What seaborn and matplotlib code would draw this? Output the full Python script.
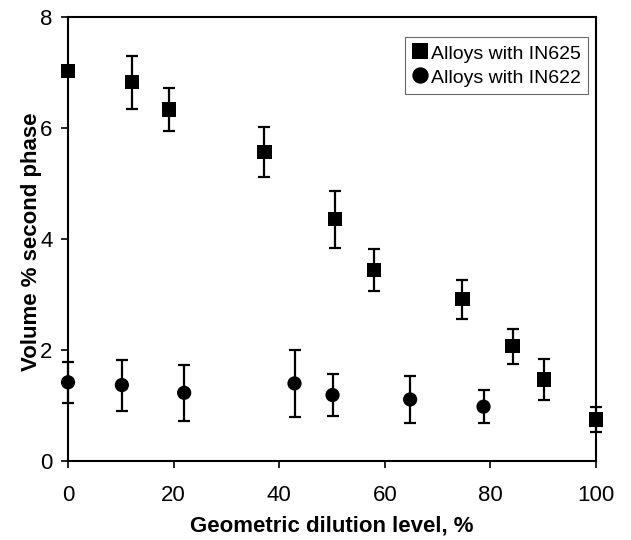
import matplotlib
matplotlib.use("Agg")
import matplotlib.pyplot as plt
import seaborn as sns
import pandas as pd

# IN625 series
x_625 = [0, 12.1, 19.1, 37.2, 50.6, 58.0, 74.7, 84.2, 90.2, 100]
y_625 = [7.03, 6.83, 6.34, 5.57, 4.36, 3.45, 2.92, 2.07, 1.47, 0.75]
e_625 = [0.0, 0.48, 0.38, 0.45, 0.51, 0.38, 0.35, 0.32, 0.37, 0.22]

# IN622 series
x_622 = [0, 10.2, 22.0, 42.9, 50.1, 64.8, 78.7]
y_622 = [1.42, 1.37, 1.23, 1.40, 1.19, 1.11, 0.98]
e_622 = [0.37, 0.46, 0.50, 0.61, 0.38, 0.42, 0.30]

labels = ["Alloys with IN625", "Alloys with IN622"]
x_ticks = [0, 20, 40, 60, 80, 100]
y_ticks = [0, 2, 4, 6, 8]

sns.set_style("white")
plt.rcParams['font.family'] = ['Liberation Sans', 'DejaVu Sans']
plt.rcParams['text.color'] = 'black'
plt.rcParams['axes.labelcolor'] = 'black'
plt.rcParams['xtick.color'] = 'black'
plt.rcParams['ytick.color'] = 'black'

df = pd.concat([
    pd.DataFrame({"x": x_625, "y": y_625, "err": e_625, "series": labels[0]}),
    pd.DataFrame({"x": x_622, "y": y_622, "err": e_622, "series": labels[1]}),
], ignore_index=True)

fig = plt.figure(figsize=(6.31, 5.40), dpi=100)
ax = fig.add_axes([0.1078, 0.1463, 0.8367, 0.8213])

for lab in labels:
    sub = df[df["series"] == lab]
    ax.errorbar(sub["x"], sub["y"], yerr=sub["err"], fmt="none", ecolor="black",
                elinewidth=1.6, capsize=4.2, capthick=1.6, zorder=2, clip_on=False)

sns.scatterplot(data=df, x="x", y="y", style="series", markers={labels[0]: "s", labels[1]: "o"},
                color="black", s=105, edgecolor="black", linewidth=0, ax=ax, zorder=3,
                clip_on=False, legend=True)

ax.set_xlim(0, 100)
ax.set_ylim(0, 8)
ax.set_xticks(x_ticks)
ax.set_yticks(y_ticks)
ax.tick_params(axis="both", which="major", labelsize=16, direction="out", length=5,
               width=1.2, color="black", labelcolor="black", bottom=True, left=True)
ax.tick_params(axis="x", pad=12)
ax.tick_params(axis="y", pad=6)
for sp in ax.spines.values():
    sp.set_visible(True)
    sp.set_color("black")
    sp.set_linewidth(1.5)

ax.set_xlabel("Geometric dilution level, %", fontsize=16, fontweight="bold")
ax.set_ylabel("Volume % second phase", fontsize=16, fontweight="bold")
ax.xaxis.set_label_coords(0.4987, -0.124)
ax.yaxis.set_label_coords(-0.05, 0.494)

leg = ax.legend(loc="upper right", bbox_to_anchor=(0.9845, 0.956), fontsize=14,
                frameon=True, fancybox=False, edgecolor="#444444", handletextpad=0.1,
                handlelength=0.9, borderpad=0.35, labelspacing=0.28, borderaxespad=0,
                markerscale=1.15, handleheight=0.9)
leg.get_frame().set_linewidth(0.8)

fig.savefig("out.png", dpi=100)
